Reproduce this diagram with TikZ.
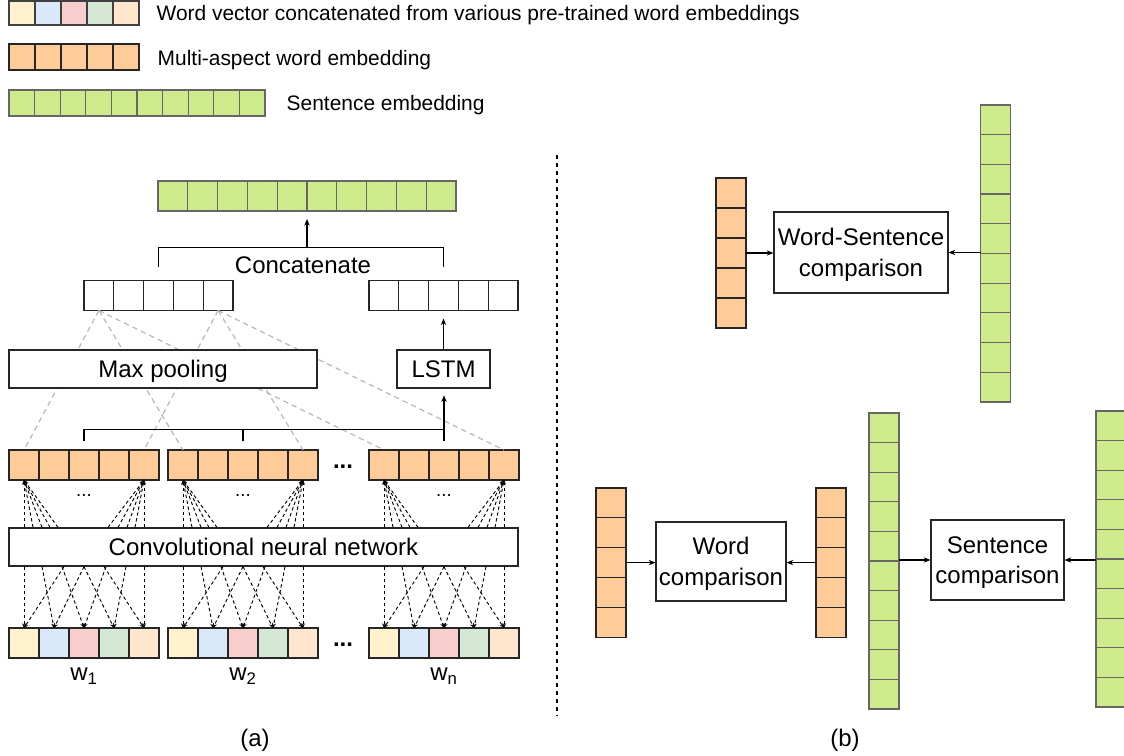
\documentclass[tikz,border=0pt]{standalone}
\usepackage{fontspec}
\setmainfont{Liberation Sans}
\usetikzlibrary{arrows.meta, calc, positioning}

\definecolor{wyellow}{HTML}{FFF2CC}
\definecolor{wblue}{HTML}{DAE8FC}
\definecolor{wred}{HTML}{F8CECC}
\definecolor{wgreen}{HTML}{D5E8D4}
\definecolor{wpeach}{HTML}{FFE6CC}
\definecolor{aspect}{HTML}{FFCC99}
\definecolor{sent}{HTML}{CDEB8B}
\definecolor{poolgray}{HTML}{B8B8B8}

\tikzset{
	cell/.style = {draw=black!85, line width=0.9pt, minimum width=22.5pt, minimum height=22.5pt, inner sep=0pt, outer sep=0pt},
	ocell/.style = {cell, fill=aspect},
	scell/.style = {cell, draw=black!60, fill=sent},
	ecell/.style = {cell, fill=white},
	block/.style = {draw=black!85, line width=0.9pt, fill=white, inner sep=0pt, text depth=0pt, align=center, font=\fontsize{18}{23}\selectfont},
	lbl/.style = {font=\fontsize{18}{23}\selectfont},
	leg/.style = {anchor=west, font=\fontsize{15.7}{19}\selectfont},
	arr/.style = {line width=0.8pt, -{Stealth[length=5pt, width=4pt]}},
	fan/.style = {line width=0.7pt, dash pattern=on 2.5pt off 2pt, -{Stealth[length=3.5pt, width=3pt]}},
	pool/.style = {draw=poolgray, line width=0.9pt, dash pattern=on 4pt off 3pt}
}

\begin{document}
\begin{tikzpicture}[x=0.75pt, y=-0.75pt]
	\useasboundingbox (0,0) rectangle (1124,756);

	% legend
	\foreach \c [count=\i] in {wyellow,wblue,wred,wgreen,wpeach}
		\node [cell, draw=black!75, fill=\c, minimum width=19.5pt, minimum height=18pt] (lw-\i) at ({22+26*(\i-1)}, 13) {};
	\foreach \i in {1,...,5}
		\node [ocell, minimum width=19.5pt, minimum height=19.5pt] (lo-\i) at ({22+26*(\i-1)}, 57) {};
	\foreach \i in {1,...,10}
		\node [scell, minimum width=19.2pt, minimum height=19.5pt] (ls-\i) at ({21.8+25.6*(\i-1)}, 103) {};
	\node [leg] (lwt) at (152,15) {Word vector concatenated from various pre-trained word embeddings};
	\node [leg] (lot) at (153,60) {Multi-aspect word embedding};
	\node [leg] (lst) at (282,105) {Sentence embedding};

	% (a)
	\foreach \i in {1,...,10}
		\node [scell, minimum width=22.35pt] (top-\i) at ({172.9+29.8*(\i-1)}, 196) {};
	\foreach \i in {1,...,5} {
		\node [ecell, minimum width=22.35pt] (el-\i) at ({98.9+29.8*(\i-1)}, 295.5) {};
		\node [ecell, minimum width=22.35pt] (er-\i) at ({383.9+29.8*(\i-1)}, 295.5) {};
	}
	\foreach \g/\x in {1/9, 2/168, 3/369}
		\foreach \c [count=\i] in {wyellow,wblue,wred,wgreen,wpeach} {
			\node [ocell] (o\g-\i) at ({\x+15+30*(\i-1)}, 465) {};
			\node [cell, fill=\c] (w\g-\i) at ({\x+15+30*(\i-1)}, 643) {};
		}

	\foreach \g in {1,2,3} {
		\draw [pool] (el-1.south) -- (o\g-1.north);
		\draw [pool] (el-5.south) -- (o\g-5.north);
	}

	\node [block, minimum width=231pt, minimum height=28.5pt] (pool) at (163,369) {Max pooling};
	\node [block, minimum width=69.75pt, minimum height=28.5pt] (lstm) at (443.5,369) {LSTM};
	\node [block, minimum width=381.75pt, minimum height=28.5pt] (cnn) at (263.5,547) {Convolutional neural network};

	\draw [line width=0.8pt] ([yshift=10pt]el-3.north) -- ++(0,-20) coordinate (catbar) -| ([yshift=10pt]er-3.north);
	\node [lbl] (cat) at (303,265) {Concatenate};
	\draw [arr] (catbar -| top-5.south east) -- ([yshift=-6pt]top-5.south east);
	\draw [arr] (lstm.north) -- ([yshift=-6pt]er-3.south);

	\draw [line width=0.8pt] ([yshift=7pt]o1-3.north) -- ++(0,-11) coordinate (poolbar) -| ([yshift=7pt]o2-3.north);
	\draw [line width=0.8pt] (poolbar) -- (poolbar -| o3-3.north);
	\draw [arr] ([yshift=7pt]o3-3.north) -- ([yshift=-5pt]lstm.south -| o3-3.north);

	\foreach \g in {1,2,3} {
		\foreach \d in {0,9,18,26,34}
			\draw [fan] ($(o\g-1.south |- cnn.north)+(\d,0)$) -- (o\g-1.south);
		\foreach \d in {0,9,17,26,36}
			\draw [fan] ($(o\g-5.south |- cnn.north)-(\d,0)$) -- (o\g-5.south);
		\foreach \i/\p/\q in {1/0/40, 2/18/60, 3/38/82, 4/60/102, 5/80/120} {
			\draw [fan] ($(w\g-1.north |- cnn.south)+(\p,0)$) -- (w\g-\i.north);
			\draw [fan] ($(w\g-1.north |- cnn.south)+(\q,0)$) -- (w\g-\i.north);
		}
		\node [font=\fontsize{14}{16}\selectfont] (fd\g) at ($(o\g-3.south)+(0,15)$) {...};
	}
	\node [font=\bfseries\fontsize{18}{20}\selectfont] (odots) at (343,467) {...};
	\node [font=\bfseries\fontsize{18}{20}\selectfont] (wdots) at (343,645) {...};

	\node [lbl, below=4pt of w1-3] (lab1) {w\textsubscript{1}};
	\node [lbl, below=4pt of w2-3] (lab2) {w\textsubscript{2}};
	\node [lbl, below=4pt of w3-3] (lab3) {w\textsubscript{n}};
	\node [lbl] (capa) at (255,740) {(a)};

	\draw [line width=0.8pt, dash pattern=on 3pt off 3pt] (557,155) -- (557,716);

	% (b)
	\foreach \i in {1,...,5} {
		\node [ocell] (wa-\i) at (731, {193+30*(\i-1)}) {};
		\node [ocell] (wb-\i) at (611, {503+29.8*(\i-1)}) {};
		\node [ocell] (wd-\i) at (831, {503+29.8*(\i-1)}) {};
	}
	\foreach \i in {1,...,10} {
		\node [scell, minimum height=22.3pt] (sa-\i) at (995.5, {119.85+29.7*(\i-1)}) {};
		\node [scell, minimum height=22.2pt] (sb-\i) at (884, {427.8+29.6*(\i-1)}) {};
		\node [scell, minimum height=22.2pt] (sd-\i) at (1111, {425.8+29.6*(\i-1)}) {};
	}
	\node [block, minimum width=130.5pt, minimum height=60.75pt] (ws) at (861,252.5) {Word-Sentence\\comparison};
	\node [block, minimum width=97.5pt, minimum height=59.25pt] (wc) at (721,561.5) {Word\\comparison};
	\node [block, minimum width=99.75pt, minimum height=60pt] (sc) at (997.5,560) {Sentence\\comparison};

	\draw [arr] (wa-3.east) -- (wa-3.east -| ws.west);
	\draw [arr] (ws.east -| sa-1.west) -- (ws.east);
	\draw [arr] (wb-3.east) -- (wb-3.east -| wc.west);
	\draw [arr] (wd-3.west) -- (wd-3.west -| wc.east);
	\draw [arr] (sc.west -| sb-1.east) -- (sc.west);
	\draw [arr] (sc.east -| sd-1.west) -- (sc.east);

	\node [lbl] (capb) at (845,740) {(b)};
\end{tikzpicture}
\end{document}
